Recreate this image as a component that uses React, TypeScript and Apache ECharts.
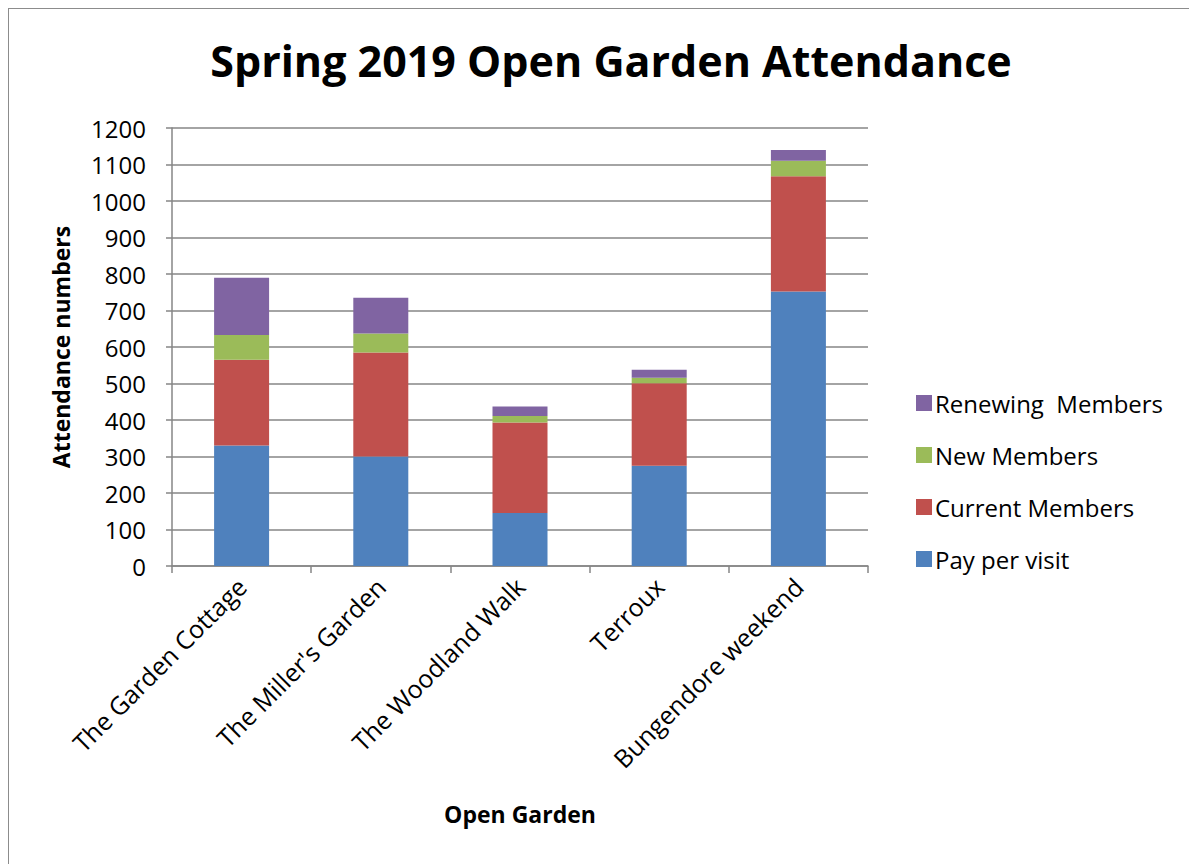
import React, { useEffect, useRef } from "react";
import * as echarts from "echarts";

const categories = ["The Garden Cottage", "The Miller's Garden", "The Woodland Walk", "Terroux", "Bungendore weekend"];
const payPerVisit = [330, 300, 145, 275, 752];
const currentMembers = [235, 285, 248, 226, 316];
const newMembers = [68, 52, 18, 15, 42];
const renewingMembers = [157, 98, 26, 22, 30];
const seriesNames = ["Pay per visit", "Current Members", "New Members", "Renewing  Members"];
const seriesColors = ["#4F81BD", "#C0504D", "#9BBB59", "#8064A2"];

const FONT = "'Open Sans', 'Noto Sans', sans-serif";

export default function App() {
  const ref = useRef<HTMLDivElement>(null);
  useEffect(() => {
    if (!ref.current) return;
    const chart = echarts.init(ref.current, undefined, { renderer: "svg" });
    const values = [payPerVisit, currentMembers, newMembers, renewingMembers];
    chart.setOption({
      animation: false,
      backgroundColor: "#ffffff",
      textStyle: { fontFamily: FONT, color: "#000" },
      title: {
        text: "Spring 2019 Open Garden Attendance",
        left: 597,
        top: 25,
        textAlign: "center",
        textStyle: { fontFamily: FONT, fontSize: 43, fontWeight: "bold", color: "#000" },
      },
      legend: {
        orient: "vertical",
        left: 902,
        top: 377,
        itemWidth: 16,
        itemHeight: 16,
        itemGap: 28,
        icon: "rect",
        data: ["Renewing  Members", "New Members", "Current Members", "Pay per visit"],
        textStyle: { fontFamily: FONT, fontSize: 24, lineHeight: 24, color: "#000", padding: [0, 0, 0, -2] },
      },
      grid: { left: 163, top: 119, width: 696, height: 438, containLabel: false },
      xAxis: {
        type: "category",
        data: categories,
        name: "Open Garden",
        nameLocation: "middle",
        nameGap: 236,
        nameTextStyle: { fontFamily: FONT, fontSize: 23, fontWeight: "bold", color: "#000" },
        axisLine: { lineStyle: { color: "#868686", width: 1.5 } },
        axisTick: { show: true, length: 7, alignWithLabel: false, lineStyle: { color: "#868686", width: 1.5 } },
        axisLabel: { rotate: 45, margin: 16, fontFamily: FONT, fontSize: 25, color: "#000" },
      },
      yAxis: {
        type: "value",
        min: 0,
        max: 1200,
        interval: 100,
        name: "Attendance numbers",
        nameLocation: "middle",
        nameGap: 100,
        nameTextStyle: { fontFamily: FONT, fontSize: 23, fontWeight: "bold", color: "#000" },
        axisLine: { show: true, lineStyle: { color: "#868686", width: 1.5 } },
        axisTick: { show: true, length: 6, lineStyle: { color: "#868686", width: 1.5 } },
        axisLabel: { margin: 26, fontFamily: FONT, fontSize: 24, color: "#000", formatter: (v: number) => String(v) },
        splitLine: { lineStyle: { color: "#868686", width: 1.5 } },
      },
      series: values.map((v, i) => ({
        name: seriesNames[i],
        type: "bar",
        stack: "total",
        barWidth: 55,
        data: v,
        itemStyle: { color: seriesColors[i] },
      })),
    });
    return () => chart.dispose();
  }, []);
  return (
    <div style={{ border: "1px solid #8c8c8c", borderRight: "none", borderBottom: "none", width: 1200, height: 870, boxSizing: "border-box" }}>
      <div ref={ref} style={{ width: 1199, height: 869 }} />
    </div>
  );
}
